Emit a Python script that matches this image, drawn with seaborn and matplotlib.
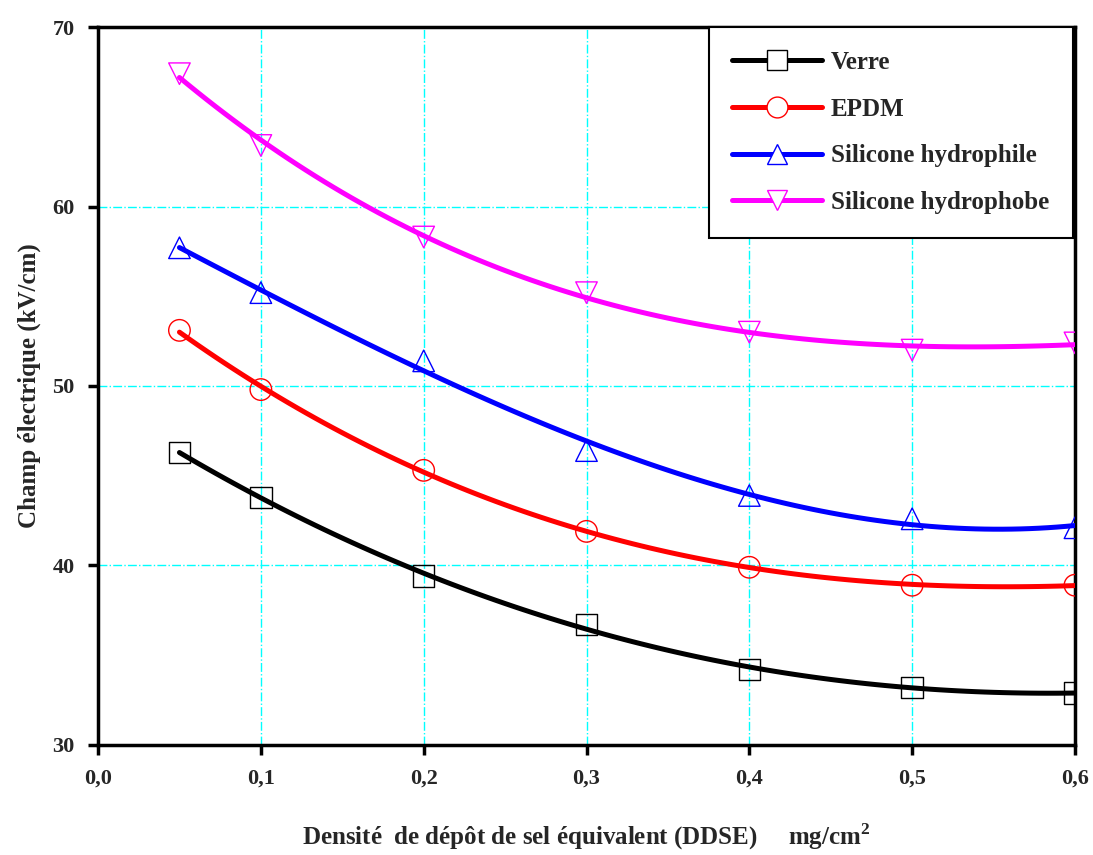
import numpy as np
import pandas as pd
import seaborn as sns
import matplotlib.pyplot as plt
from matplotlib.lines import Line2D

# DDSE (mg/cm2) and measured electric field (kV/cm) per insulator material
ddse = [0.05, 0.1, 0.2, 0.3, 0.4, 0.5, 0.6]
verre = [46.3, 43.8, 39.4, 36.7, 34.2, 33.2, 32.9]
epdm = [53.1, 49.8, 45.3, 41.9, 39.9, 38.9, 38.9]
sil_hydrophile = [57.7, 55.2, 51.4, 46.4, 43.9, 42.6, 42.1]
sil_hydrophobe = [67.4, 63.4, 58.3, 55.2, 53.0, 52.0, 52.4]

names = ["Verre", "EPDM", "Silicone hydrophile", "Silicone hydrophobe"]
colors = ["black", "red", "blue", "magenta"]
markers = ["s", "o", "^", "v"]

df = pd.DataFrame({"ddse": ddse, "Verre": verre, "EPDM": epdm,
                   "Silicone hydrophile": sil_hydrophile,
                   "Silicone hydrophobe": sil_hydrophobe})

sns.set_style("white")
plt.rcParams["font.family"] = ["Liberation Serif", "DejaVu Serif"]
plt.rcParams["font.weight"] = "bold"
plt.rcParams["mathtext.fontset"] = "custom"
plt.rcParams["mathtext.bf"] = "Liberation Serif:bold"
plt.rcParams["mathtext.rm"] = "Liberation Serif:bold"

fig = plt.figure(figsize=(10.93, 8.55), dpi=100)
ax = fig.add_axes([0.0897, 0.1287, 0.8938, 0.8397])

handles = []
for name, c, m in zip(names, colors, markers):
    # open markers for the measured points
    sns.scatterplot(data=df, x="ddse", y=name, marker=m, s=240, facecolor="none",
                    edgecolor=c, linewidth=1.0, ax=ax, zorder=3)
    # smooth polynomial fit through the points
    sns.regplot(data=df, x="ddse", y=name, order=3, ci=None, scatter=False,
                line_kws={"color": c, "lw": 3.6, "zorder": 4}, ax=ax)
    handles.append(Line2D([], [], color=c, lw=3.6, marker=m, markersize=15,
                          markerfacecolor="white", markeredgecolor=c,
                          markeredgewidth=1.0, label=name))

ax.set_xlim(0, 0.6)
ax.set_ylim(30, 70)
ax.set_xticks(np.arange(0, 0.61, 0.1))
ax.set_xticklabels([f"{v:.1f}".replace(".", ",") for v in np.arange(0, 0.61, 0.1)])
ax.set_yticks([30, 40, 50, 60, 70])

ax.grid(True, color="cyan", linestyle="-.", linewidth=1.0)
for s in ax.spines.values():
    s.set_color("black")
    s.set_linewidth(2.5)
ax.tick_params(axis="both", direction="out", length=7, width=2.5,
               labelsize=16, color="black", pad=10, bottom=True, left=True)
for lab in ax.get_xticklabels() + ax.get_yticklabels():
    lab.set_fontweight("bold")

ax.set_xlabel("Densité  de dépôt de sel équivalent (DDSE)     mg/cm$^{\\mathbf{2}}$",
              fontsize=18, fontweight="bold", labelpad=24)
ax.set_ylabel("Champ électrique (kV/cm)", fontsize=18, fontweight="bold", labelpad=8)

leg = ax.legend(handles=handles, loc="upper right", bbox_to_anchor=(0.998, 1.0),
                borderaxespad=0, fancybox=False, framealpha=1, edgecolor="black",
                prop={"weight": "bold", "size": 18}, handlelength=3.6,
                labelspacing=0.95, borderpad=0.95, handletextpad=0.35)
leg.get_frame().set_linewidth(1.5)

fig.savefig("out.png", dpi=100)
